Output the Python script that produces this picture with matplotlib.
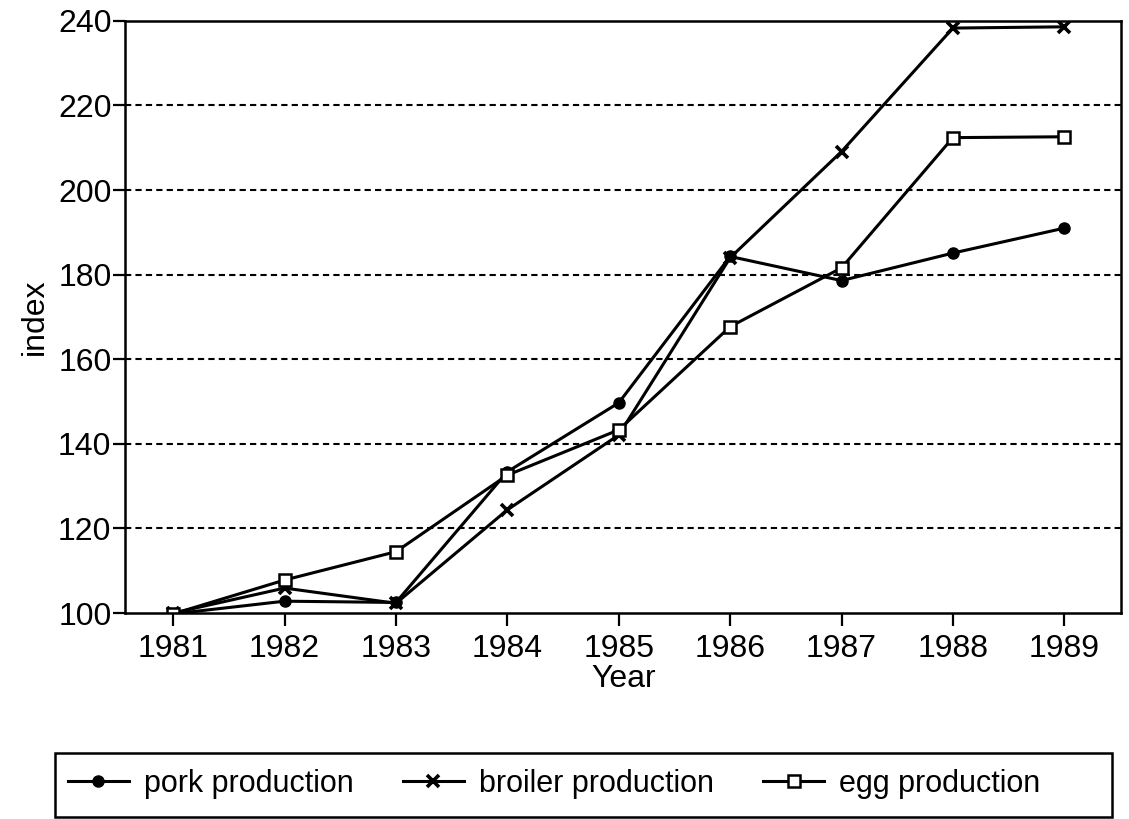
import matplotlib
matplotlib.use("Agg")
import matplotlib.pyplot as plt
from matplotlib.patches import Rectangle

years = [1981, 1982, 1983, 1984, 1985, 1986, 1987, 1988, 1989]
pork = [99.8, 102.8, 102.5, 133.4, 149.7, 184.3, 178.6, 185.1, 191.0]
broiler = [100, 105.9, 102.3, 124.4, 142.1, 184.0, 209.1, 238.3, 238.6]
egg = [99.8, 107.8, 114.5, 132.6, 143.3, 167.7, 181.6, 212.4, 212.6]
yticks = [100, 120, 140, 160, 180, 200, 220, 240]

plt.rcParams['font.family'] = ['Liberation Sans', 'DejaVu Sans']

fig = plt.figure(figsize=(11.29, 8.19), dpi=100)
ax = fig.add_axes([0.111, 0.2515, 0.882, 0.723])

lw = 2.2
ax.plot(years, pork, color='black', lw=lw, marker='o', ms=8, label='pork production')
ax.plot(years, broiler, color='black', lw=lw, marker='x', ms=9, mew=2.6, label='broiler production')
ax.plot(years, egg, color='black', lw=lw, marker='s', ms=9, mfc='white', mew=1.8, label='egg production')

ax.set_xlim(1980.57, 1989.51)
ax.set_ylim(100, 240)
ax.set_xticks(years)
ax.set_yticks(yticks)
ax.tick_params(axis='both', direction='out', length=9, width=1.6, labelsize=23)
ax.tick_params(axis='x', pad=6)
ax.tick_params(axis='y', pad=1)
for y in yticks[1:-1]:
    ax.axhline(y, color='black', lw=1.5, ls=(0, (3, 2)), zorder=0)
for s in ax.spines.values():
    s.set_linewidth(1.8)

ax.set_xlabel('Year', fontsize=23, labelpad=0)
ax.set_ylabel('index', fontsize=23, labelpad=6)

fig.patches.append(Rectangle((0.0487, 0.0024), 0.936, 0.0782, transform=fig.transFigure,
                             fill=False, edgecolor='black', lw=1.8))
handles, labels = ax.get_legend_handles_labels()
leg = fig.legend(handles, labels, loc='center left', bbox_to_anchor=(0.060, 0.043),
                 ncol=3, fontsize=22, frameon=False, borderpad=0,
                 handlelength=2.0, handletextpad=0.5, columnspacing=1.6, borderaxespad=0)

fig.savefig('out.png', dpi=100)
